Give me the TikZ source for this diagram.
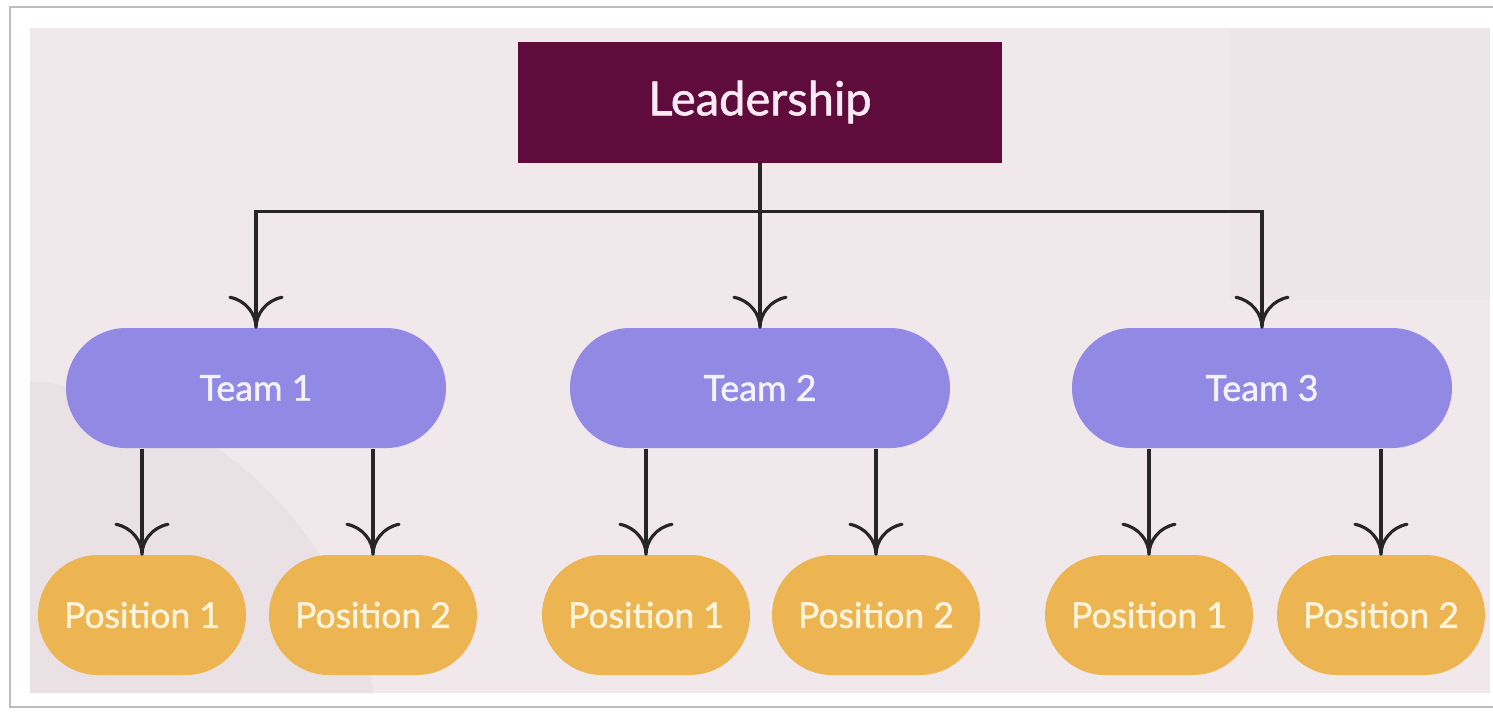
\documentclass[tikz,border=0pt]{standalone}
\usepackage{fontspec}
\setmainfont{Lato}[FakeBold=1.2]
\usetikzlibrary{arrows.meta}

\definecolor{pagepink}{HTML}{F1E8EB}
\definecolor{framegray}{HTML}{BDBDBD}
\definecolor{leadred}{HTML}{5F0C3C}
\definecolor{leadtext}{HTML}{FBEAF3}
\definecolor{teamblue}{HTML}{9189E3}
\definecolor{teamtext}{HTML}{F4F2FF}
\definecolor{postgold}{HTML}{EDB452}
\definecolor{posttext}{HTML}{FFF4DC}
\definecolor{linkgray}{HTML}{262626}

% open fork-shaped tip with curved arms
\pgfdeclarearrow{
  name = Fork,
  parameters = {\the\pgfarrowlength,\the\pgfarrowwidth},
  setup code = {
    \pgfarrowssettipend{0pt}
    \pgfarrowssetlineend{-0.5\pgflinewidth}
    \pgfarrowssetbackend{-\pgfarrowlength}
    \pgfarrowssetvisualbackend{-0.5\pgfarrowlength}
    \pgfarrowssavethe\pgfarrowlength
    \pgfarrowssavethe\pgfarrowwidth
  },
  drawing code = {
    \pgfsetdash{}{0pt}
    \pgfsetroundcap
    \pgfsetroundjoin
    \pgfpathmoveto{\pgfqpoint{-\pgfarrowlength}{.5\pgfarrowwidth}}
    \pgfpathcurveto{\pgfqpoint{-.9\pgfarrowlength}{.2\pgfarrowwidth}}{\pgfqpoint{-.45\pgfarrowlength}{0pt}}{\pgfqpoint{0pt}{0pt}}
    \pgfpathcurveto{\pgfqpoint{-.45\pgfarrowlength}{0pt}}{\pgfqpoint{-.9\pgfarrowlength}{-.2\pgfarrowwidth}}{\pgfqpoint{-\pgfarrowlength}{-.5\pgfarrowwidth}}
    \pgfusepathqstroke
  },
  defaults = {length=3mm, width=5.2mm}
}

\begin{document}
\begin{tikzpicture}[x=0.1mm, y=-0.1mm,
  lead/.style={fill=leadred, text=leadtext, minimum width=48.4mm, minimum height=12.1mm,
    font=\fontsize{13.4}{16}\selectfont},
  team/.style={fill=teamblue, text=teamtext, rounded corners=6mm, minimum width=38mm,
    minimum height=12mm, font=\fontsize{10.2}{12}\selectfont},
  post/.style={fill=postgold, text=posttext, rounded corners=6mm, minimum width=20.8mm,
    minimum height=12mm, font=\fontsize{10.1}{12}\selectfont},
  link/.style={draw=linkgray, line width=0.9pt},
  tip/.style={link, -{Fork}}]
\useasboundingbox (0,0) rectangle (1493,711);

% page and backdrop
\draw[framegray, line width=0.6pt] (1493,7) -- (10,7) -- (10,707) -- (1493,707);
\fill[pagepink] (30,28) rectangle (1490,693);
\begin{scope}
  \clip (30,28) rectangle (1490,693);
  \fill[gray, opacity=0.06] (0,760) circle (380);
  \fill[gray, opacity=0.025] (1230,28) rectangle (1490,300);
\end{scope}

% boxes
\node[lead] (lead) at (760,102) {Leadership};

\node[team] (team1) at (256,388) {Team 1};
\node[team] (team2) at (760,388) {Team 2};
\node[team] (team3) at (1262,388) {Team 3};

\node[post] (pos11) at (142,615) {Position 1};
\node[post] (pos12) at (373,615) {Position 2};
\node[post] (pos21) at (646,615) {Position 1};
\node[post] (pos22) at (876,615) {Position 2};
\node[post] (pos31) at (1149,615) {Position 1};
\node[post] (pos32) at (1381,615) {Position 2};

% leadership to teams
\draw[link] (lead.south) -- ++(0,48) coordinate (hub);
\draw[tip] (hub) -| (team1.north);
\draw[tip] (hub) -- (team2.north);
\draw[tip] (hub) -| (team3.north);

% teams to positions
\draw[tip] (team1.south -| pos11.north) -- (pos11.north);
\draw[tip] (team1.south -| pos12.north) -- (pos12.north);
\draw[tip] (team2.south -| pos21.north) -- (pos21.north);
\draw[tip] (team2.south -| pos22.north) -- (pos22.north);
\draw[tip] (team3.south -| pos31.north) -- (pos31.north);
\draw[tip] (team3.south -| pos32.north) -- (pos32.north);
\end{tikzpicture}
\end{document}
